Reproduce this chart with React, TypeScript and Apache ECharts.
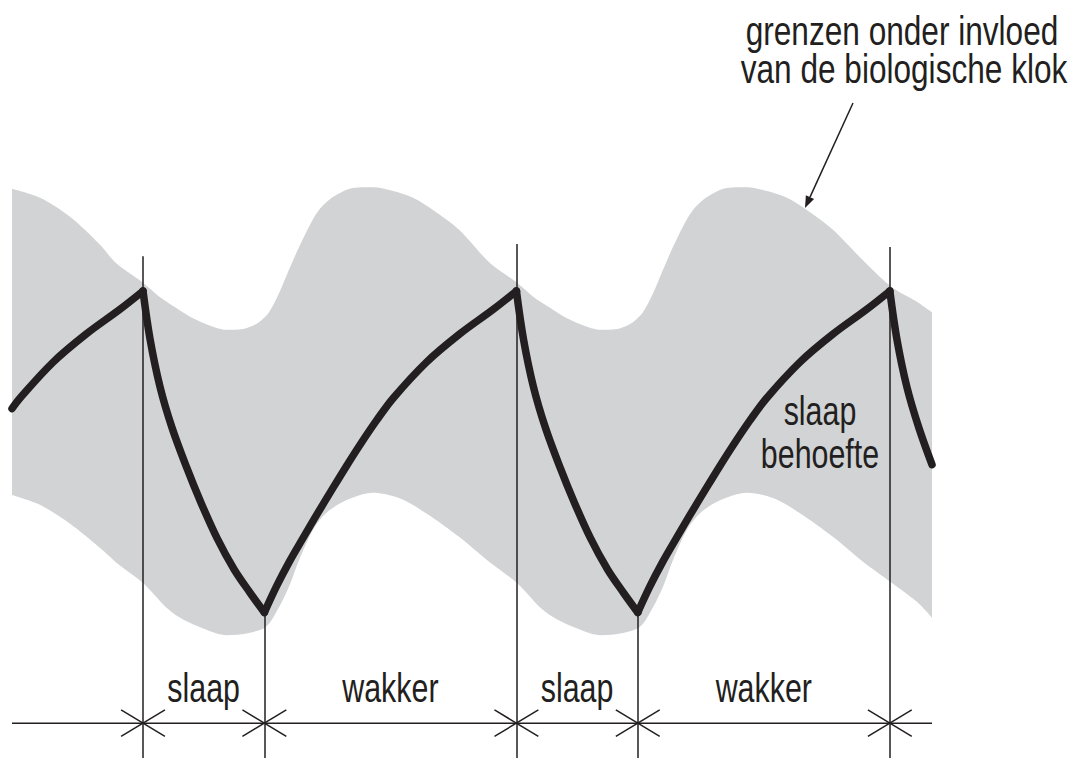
import React, { useEffect, useRef } from "react";
import * as echarts from "echarts";

// Time in hours since the first sleep onset; level in arbitrary units (0-100).
const phaseBounds = [0, 7.8, 24, 31.8, 48];
const phaseLabels = ["slaap", "wakker", "slaap", "wakker"];
const sleepOnsets = [0, 24, 48];
const onsetLineTops = [66.2, 67.8, 67.4];
const wakeTimes = [7.8, 31.8];
const troughLevel = 19.2;
const axisLevel = 4.6;
const phaseLabelLevel = 7.3;

// Sleep pressure (black curve)
const pressureT = [
  -8.42, -7.9, -5.79, -3.67, -1.48, 0,
  0.45, 1.09, 1.86, 2.83, 3.66, 4.76, 5.85, 6.88, 7.8,
  8.57, 9.41, 10.31, 11.14, 12.23, 13.07, 13.91, 15.0, 16.09, 18.21, 20.33, 22.52, 24,
  24.45, 25.09, 25.86, 26.83, 27.66, 28.76, 29.85, 30.88, 31.8,
  32.57, 33.41, 34.31, 35.14, 36.23, 37.07, 37.91, 39.0, 40.09, 42.21, 44.33, 46.52, 48,
  48.45, 49.09, 49.86, 50.71,
];
const pressureV = [
  46.1, 47.5, 52.2, 55.9, 59.2, 61.6,
  55.3, 49.0, 43.6, 38.2, 34.0, 29.0, 24.9, 21.8, 19.2,
  22.6, 25.9, 29.1, 32.0, 35.7, 38.5, 41.2, 44.5, 47.5, 52.2, 55.9, 59.2, 61.6,
  55.3, 49.0, 43.6, 38.2, 34.0, 29.0, 24.9, 21.8, 19.2,
  22.6, 25.9, 29.1, 32.0, 35.7, 38.5, 41.2, 44.5, 47.5, 52.2, 55.9, 59.2, 61.6,
  55.3, 49.0, 43.6, 38.7,
];

// Upper limit of the band (biological clock)
const upperT = [
  -8.42, -6.62, -4.69, -2.76, -1.74, 0, 1.03, 2.12, 3.21, 4.24, 5.33, 6.43, 7.46,
  8.1, 8.74, 9.38, 10.03, 10.67, 11.31, 12.21, 13.5, 14.78, 16.07, 17.35, 18.64,
  20.31, 22.3, 24.04, 25.06, 26.16, 27.25, 28.28, 29.37, 30.46, 31.49, 32.13, 32.78,
  33.42, 34.06, 34.7, 35.35, 36.25, 37.53, 38.82, 40.1, 41.39, 42.67, 44.34, 46.4,
  48.14, 49.74, 50.71,
];
const upperV = [
  75.1, 73.9, 71.4, 67.7, 65.3, 62.7, 60.9, 59.4, 58.0, 57.1, 56.5, 56.6, 57.5,
  58.8, 61.3, 64.4, 67.4, 70.1, 72.3, 74.0, 75.2, 75.3, 74.8, 73.9, 72.3,
  69.7, 65.3, 62.7, 60.9, 59.4, 58.0, 57.1, 56.5, 56.6, 57.5, 58.8, 61.3,
  64.4, 67.4, 70.1, 72.3, 74.0, 75.2, 75.3, 74.8, 73.9, 72.3, 69.7, 65.4,
  62.1, 60.2, 58.8,
];

// Lower limit of the band
const lowerT = [
  -8.42, -6.62, -4.69, -2.76, -1.67, 0, 1.48, 2.31, 3.6, 5.33, 6.81, 7.9, 8.74,
  9.38, 10.03, 10.93, 11.76, 13.05, 14.78, 16.45, 18.19, 20.31, 22.37, 24.04,
  25.51, 26.35, 27.63, 29.37, 30.85, 31.94, 32.78, 33.42, 34.06, 34.96, 35.8,
  37.08, 38.82, 40.49, 42.22, 44.34, 46.4, 48.14, 49.74, 50.71,
];
const lowerV = [
  34.7, 33.4, 30.9, 27.7, 25.7, 23.1, 19.9, 18.6, 17.3, 16.2, 16.5, 17.3, 19.9,
  22.6, 26.1, 30.1, 32.3, 34.0, 35.0, 34.3, 32.3, 29.2, 25.7, 23.1,
  19.9, 18.6, 17.3, 16.2, 16.5, 17.3, 19.9, 22.6, 26.1, 30.1, 32.3,
  34.0, 35.0, 34.3, 32.3, 29.2, 25.7, 23.1, 20.6, 18.5,
];

const annotationLines = ["grenzen onder invloed", "van de biologische klok"];
const curveLabelLines = ["slaap", "behoefte"];

const X_MIN = -8.42;
const X_MAX = 50.71;
const INK = "#231f20";
const BAND = "#d1d3d4";
const FONT = '"Liberation Sans", Arial, Helvetica, sans-serif';
const CROSS_DT = 1.41;
const CROSS_DV = 1.75;

function textEl(text: string, cx: number, baseline: number, size = 40, sx = 0.76) {
  return {
    type: "text",
    x: cx,
    y: baseline - 0.35 * size,
    scaleX: sx,
    silent: true,
    z: 100,
    style: {
      text,
      x: 0,
      y: 0,
      fill: INK,
      fontSize: size,
      fontFamily: FONT,
      align: "center",
      verticalAlign: "middle",
    },
  };
}

export default function App() {
  const ref = useRef<HTMLDivElement>(null);

  useEffect(() => {
    const el = ref.current;
    if (!el) return;
    const chart = echarts.init(el, null, { renderer: "svg" });

    const zip = (ts: number[], vs: number[]) => ts.map((t, i) => [t, vs[i]]);

    // split the sleep-pressure curve into its sleep / wake pieces at the phase bounds
    const pressure = zip(pressureT, pressureV);
    const segments: number[][][] = [];
    let current: number[][] = [];
    pressure.forEach((pt) => {
      current.push(pt);
      if (phaseBounds.includes(pt[0]) && current.length > 1) {
        segments.push(current);
        current = [pt];
      }
    });
    if (current.length > 1) segments.push(current);

    const markData: any[] = [];
    sleepOnsets.forEach((t, i) => {
      markData.push([{ coord: [t, onsetLineTops[i]] }, { coord: [t, 0] }]);
    });
    wakeTimes.forEach((t) => {
      markData.push([{ coord: [t, troughLevel] }, { coord: [t, 0] }]);
    });
    phaseBounds.forEach((b) => {
      markData.push([
        { coord: [b - CROSS_DT, axisLevel + CROSS_DV] },
        { coord: [b + CROSS_DT, axisLevel - CROSS_DV] },
      ]);
      markData.push([
        { coord: [b - CROSS_DT, axisLevel - CROSS_DV] },
        { coord: [b + CROSS_DT, axisLevel + CROSS_DV] },
      ]);
    });

    const pressureSeries = segments.map((seg, i) => ({
      name: "slaapbehoefte" + (i + 1),
      type: "line",
      data: seg,
      smooth: 0.35,
      symbol: "none",
      silent: true,
      z: 5,
      lineStyle: { color: INK, width: 7.5, join: "round", cap: "round" },
    }));

    chart.setOption({
      animation: false,
      backgroundColor: "#ffffff",
      grid: { left: 12, right: 147, top: 0, bottom: 0, containLabel: false, outerBoundsMode: "none" },
      xAxis: { type: "value", min: X_MIN, max: X_MAX, show: false },
      yAxis: { type: "value", min: 0, max: 100, show: false },
      series: [
        {
          name: "bovengrens",
          type: "line",
          data: zip(upperT, upperV),
          smooth: 0.3,
          symbol: "none",
          silent: true,
          z: 1,
          lineStyle: { width: 0, opacity: 0 },
          areaStyle: { color: BAND, opacity: 1, origin: "start" },
        },
        {
          name: "ondergrens",
          type: "line",
          data: zip(lowerT, lowerV),
          smooth: 0.3,
          symbol: "none",
          silent: true,
          z: 1,
          lineStyle: { width: 0, opacity: 0 },
          areaStyle: { color: "#ffffff", opacity: 1, origin: "start" },
        },
        {
          name: "tijdas",
          type: "line",
          data: [
            [X_MIN, axisLevel],
            [X_MAX, axisLevel],
          ],
          symbol: "none",
          silent: true,
          z: 3,
          lineStyle: { color: INK, width: 1.5 },
          markLine: {
            silent: true,
            symbol: ["none", "none"],
            label: { show: false },
            emphasis: { disabled: true },
            lineStyle: { color: INK, width: 1.5, type: "solid" },
            data: markData,
          },
        },
        ...pressureSeries,
      ],
    });

    const toPx = (t: number, v: number) =>
      chart.convertToPixel({ gridIndex: 0 }, [t, v]) as number[];

    const graphics: any[] = [];
    phaseLabels.forEach((lab, i) => {
      const mid = (phaseBounds[i] + phaseBounds[i + 1]) / 2;
      const p = toPx(mid, phaseLabelLevel);
      graphics.push(textEl(lab, p[0], p[1]));
    });

    // annotation top right
    graphics.push(textEl(annotationLines[0], 902, 45, 40, 0.79));
    graphics.push(textEl(annotationLines[1], 904, 83, 40, 0.79));
    // curve label
    graphics.push(textEl(curveLabelLines[0], 820, 425));
    graphics.push(textEl(curveLabelLines[1], 820, 468));

    // arrow
    const ax1 = 853, ay1 = 103, ax2 = 805, ay2 = 208;
    const len = Math.hypot(ax2 - ax1, ay2 - ay1);
    const ux = (ax2 - ax1) / len, uy = (ay2 - ay1) / len;
    const bx = ax2 - ux * 12, by = ay2 - uy * 12;
    const hw = 4.5;
    graphics.push({
      type: "line",
      silent: true,
      z: 100,
      shape: { x1: ax1, y1: ay1, x2: bx, y2: by },
      style: { stroke: INK, lineWidth: 1.5 },
    });
    graphics.push({
      type: "polygon",
      silent: true,
      z: 100,
      shape: {
        points: [
          [ax2, ay2],
          [bx - uy * hw, by + ux * hw],
          [bx + uy * hw, by - ux * hw],
        ],
      },
      style: { fill: INK },
    });

    chart.setOption({ graphic: graphics });

    return () => {
      chart.dispose();
    };
  }, []);

  return (
    <div
      ref={ref}
      style={{
        position: "fixed",
        left: 0,
        top: 0,
        width: 1079,
        height: 758,
        background: "#ffffff",
      }}
    />
  );
}
